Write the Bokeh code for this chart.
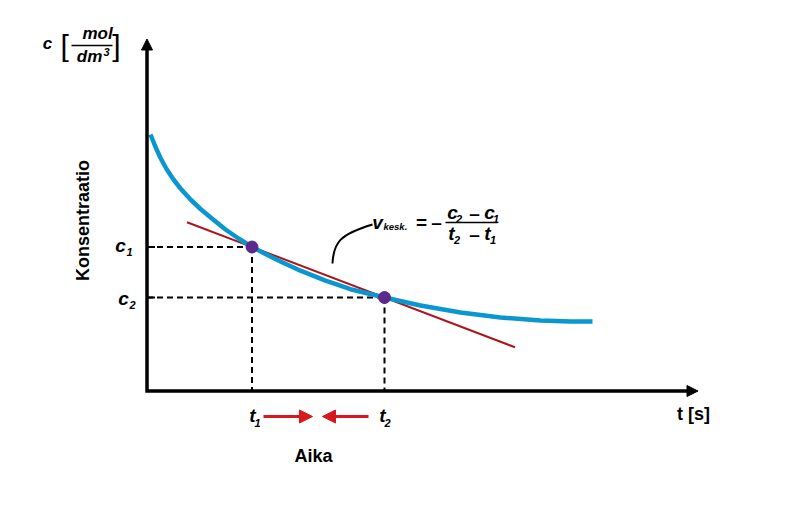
import math
from bokeh.plotting import figure
from bokeh.models import Range1d, Arrow, NormalHead
from bokeh.core.properties import value
from bokeh.embed import file_html
from bokeh.resources import INLINE

# ---- data (time units / concentration units of the sketch) ----
time = [3.5, 8.5, 13.5, 19.5, 26.5, 33.5, 43.5, 53.5, 65.5, 78.5, 91.5, 105,
        118.5, 133.5, 153.5, 178.5, 203.5, 237.5, 273.5, 313.5, 353.5, 393.5, 423.5, 445.5]
conc = [256.5, 244, 233, 222, 211.5, 202.5, 191.5, 182, 172, 161.5, 152.5, 144,
        137, 129.5, 120.3, 110.3, 101.8, 93.5, 85.5, 78.5, 73.5, 70.5, 69.5, 69.5]
t_points = [105, 237.5]
c_points = [144, 93.5]
secant_t = [40, 368]
t_axis_max = 551
c_axis_max = 352

FONT = value("Liberation Sans")

# pixel -> data helpers for annotation placement
OX, OY = 146.5, 390.5
def X(px):
    return px - OX
def Y(py):
    return OY - py

W, H = 784, 511
p = figure(width=W, height=H,
           x_range=Range1d(X(0), X(W)), y_range=Range1d(Y(H), Y(0)),
           output_backend="svg", toolbar_location=None, min_border=0,
           x_axis_location=None, y_axis_location=None)
p.grid.visible = False
p.outline_line_color = None
p.background_fill_color = "white"
p.border_fill_color = "white"

# dashed guides
t1, t2 = t_points
c1, c2 = c_points
p.segment(x0=[0, 0, t1, t2], y0=[c1, c2, c1, c2],
          x1=[t1, t2, t1, t2], y1=[c1, c2, 0, 0],
          line_color="black", line_width=2, line_dash="6 4")
# small ticks on the y axis
p.segment(x0=[0, 0], y0=[c1, c2], x1=[8, 8], y1=[c1, c2],
          line_color="black", line_width=2)

# secant line
slope = (c2 - c1) / (t2 - t1)
sec_c = [c1 + slope * (t - t1) for t in secant_t]
p.line(secant_t, sec_c, line_color="#ad1419", line_width=2)

# concentration curve
p.line(time, conc, line_color="#0a97cf", line_width=4.5, line_join="round")

# points
p.scatter(t_points, c_points, size=12, fill_color="#5b2a8c", line_color="#5b2a8c")

# axes
p.line([0, 0, t_axis_max - 6], [c_axis_max - 6, 0, 0], line_color="black",
       line_width=3.5, line_join="miter")
for xs, ys, xe, ye in [(0, c_axis_max - 8, 0, c_axis_max), (t_axis_max - 8, 0, t_axis_max, 0)]:
    p.add_layout(Arrow(end=NormalHead(size=11, fill_color="black", line_color="black", line_width=1),
                       x_start=xs, y_start=ys, x_end=xe, y_end=ye,
                       line_color="black", line_width=3.5))

# red arrows under the time axis
for xs, xe in [(X(263), X(312)), (X(368), X(322))]:
    p.add_layout(Arrow(end=NormalHead(size=13, fill_color="#d7191f", line_color="#d7191f", line_width=1),
                       x_start=xs, y_start=Y(416), x_end=xe, y_end=Y(416),
                       line_color="#d7191f", line_width=3))

def txt(px, py, s, size, style="bold italic", align="center", baseline="middle", angle=0.0, color="black"):
    p.text(x=[X(px)], y=[Y(py)], text=[s], text_font=FONT, text_font_size=f"{size}px",
           text_font_style=style, text_align=align, text_baseline=baseline,
           angle=angle, text_color=color)

# y-axis unit label
txt(47, 43, "c", 17)
txt(60, 44.5, "[", 30, style="normal", align="left")
txt(120, 44.5, "]", 30, style="normal", align="right")
txt(97, 33, "mol", 17)
p.segment(x0=[X(71)], y0=[Y(45)], x1=[X(112)], y1=[Y(45)], line_color="black", line_width=1.5)
txt(89, 56, "dm", 17)
txt(106, 51, "3", 11)

# axis titles
txt(82, 220, "Konsentraatio", 18, style="bold", angle=math.pi / 2)
txt(313, 455, "Aika", 18, style="bold")
txt(693, 413, "t [s]", 18, style="bold")

# c1, c2 labels
txt(120, 245, "c", 19); txt(129, 251, "1", 11)
txt(123, 298, "c", 19); txt(132, 304, "2", 11)
# t1, t2 labels
txt(252, 415, "t", 19); txt(257, 422, "1", 11)
txt(382, 415, "t", 19); txt(387, 422, "2", 11)

# formula
txt(377, 222, "v", 19)
txt(383, 226, "kesk.", 9.5, align="left")
txt(421, 222, "=", 19, style="bold")
txt(436, 222, "\u2013", 19, style="bold")
p.segment(x0=[X(445)], y0=[Y(222)], x1=[X(497)], y1=[Y(222)], line_color="black", line_width=1.5)
txt(452, 212, "c", 19); txt(458.5, 218, "2", 11)
txt(474, 212.5, "\u2013", 19, style="bold")
txt(489, 212, "c", 19); txt(495.5, 218, "1", 11)
txt(451, 233, "t", 19); txt(456.5, 239, "2", 11)
txt(474, 233.5, "\u2013", 19, style="bold")
txt(487, 233, "t", 19); txt(492.5, 239, "1", 11)

# pointer hook from the secant to the formula
p.bezier(x0=[X(332)], y0=[Y(263)], x1=[X(372)], y1=[Y(224)],
         cx0=[X(333)], cy0=[Y(242)], cx1=[X(339)], cy1=[Y(234)],
         line_color="black", line_width=2)

open("out.html", "w").write(file_html(p, INLINE))
